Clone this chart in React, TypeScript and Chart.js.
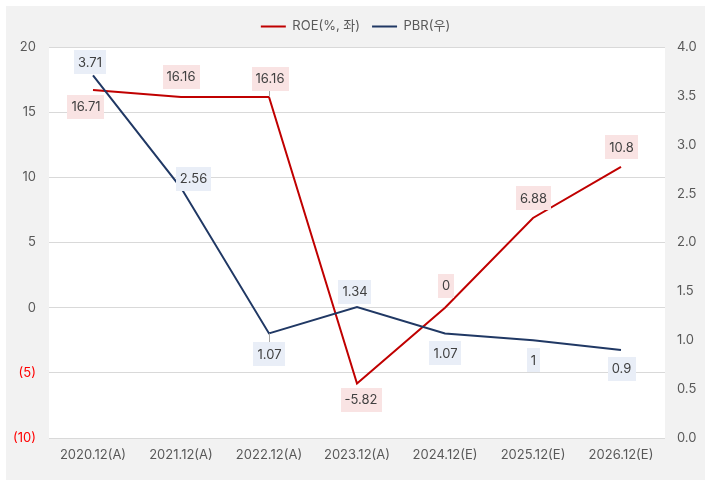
import React, { useEffect, useRef } from 'react';
import { Chart, registerables } from 'chart.js';

Chart.register(...registerables);

const categories = ['2020.12(A)', '2021.12(A)', '2022.12(A)', '2023.12(A)', '2024.12(E)', '2025.12(E)', '2026.12(E)'];
const roeValues = [16.71, 16.16, 16.16, -5.82, 0, 6.88, 10.8];
const pbrValues = [3.71, 2.56, 1.07, 1.34, 1.07, 1, 0.9];
const roeLabel = 'ROE(%, 좌)';
const pbrLabel = 'PBR(우)';
const leftMin = -10;
const leftMax = 20;
const leftStep = 5;
const rightMin = 0;
const rightMax = 4;
const rightStep = 0.5;

// label placement relative to each point (dx, dy of label box centre)
const roeLabelOffsets = [[-7, 17], [0, -20], [1, -18], [4, 16.5], [1, -22], [0.5, -19.5], [0.5, -19.5]];
const pbrLabelOffsets = [[-3, -13], [12.5, -9], [0.5, 21], [-2, -15.5], [0.5, 20], [0.5, 20], [0.5, 19]];
const roeLeaders = [false, false, true, false, false, false, false];
const pbrLeaders = [false, false, true, false, false, false, false];

const FONT = 'Inter, "Noto Sans CJK KR", sans-serif';
const RED = '#c00000';
const NAVY = '#203864';

const labelStyles = [
  { bg: '#f9e3e3', offsets: roeLabelOffsets, leaders: roeLeaders },
  { bg: '#e9eef7', offsets: pbrLabelOffsets, leaders: pbrLeaders },
];

const bgPlugin = {
  id: 'bgPlugin',
  beforeDraw(chart: any) {
    const { ctx, chartArea } = chart;
    ctx.save();
    ctx.fillStyle = '#ffffff';
    ctx.fillRect(0, 0, chart.width, chart.height);
    ctx.fillStyle = '#f2f2f2';
    ctx.fillRect(6, 6, chart.width - 12, chart.height - 12);
    ctx.fillStyle = '#ffffff';
    ctx.fillRect(chartArea.left, chartArea.top, chartArea.right - chartArea.left, chartArea.bottom - chartArea.top);
    ctx.restore();
  },
};

const legendPatch = {
  id: 'legendPatch',
  afterInit(chart: any) {
    const legend = chart.legend;
    if (legend && !legend.__patched) {
      const orig = legend.fit.bind(legend);
      legend.fit = function () {
        orig();
        this.height = 39;
      };
      legend.__patched = true;
    }
  },
};

const labelPlugin = {
  id: 'valueLabels',
  afterDatasetsDraw(chart: any) {
    const ctx = chart.ctx;
    ctx.save();
    ctx.font = `13px ${FONT}`;
    ctx.textAlign = 'center';
    ctx.textBaseline = 'middle';
    chart.data.datasets.forEach((ds: any, di: number) => {
      const meta = chart.getDatasetMeta(di);
      const cfg = labelStyles[di];
      meta.data.forEach((pt: any, i: number) => {
        const text = String(ds.data[i]);
        const [dx, dy] = cfg.offsets[i];
        const cx = pt.x + dx;
        const cy = pt.y + dy;
        const w = ctx.measureText(text).width + 8;
        const h = 24;
        if (cfg.leaders[i]) {
          ctx.strokeStyle = '#a6a6a6';
          ctx.lineWidth = 1;
          ctx.beginPath();
          ctx.moveTo(pt.x + 0.5, pt.y);
          ctx.lineTo(pt.x + 0.5, dy < 0 ? cy + h / 2 : cy - h / 2);
          ctx.stroke();
        }
        ctx.fillStyle = cfg.bg;
        ctx.fillRect(Math.round(cx - w / 2), Math.round(cy - h / 2), Math.round(w), h);
        ctx.fillStyle = '#404040';
        ctx.fillText(text, cx, cy + 0.5);
      });
    });
    ctx.restore();
  },
};

export default function App() {
  const ref = useRef<HTMLCanvasElement | null>(null);

  useEffect(() => {
    if (!ref.current) return;
    const chart = new Chart(ref.current, {
      type: 'line',
      data: {
        labels: categories,
        datasets: [
          {
            label: roeLabel,
            data: roeValues,
            borderColor: RED,
            backgroundColor: RED,
            borderWidth: 2,
            pointRadius: 0,
            tension: 0,
            yAxisID: 'y',
            order: 2,
          },
          {
            label: pbrLabel,
            data: pbrValues,
            borderColor: NAVY,
            backgroundColor: NAVY,
            borderWidth: 2,
            pointRadius: 0,
            tension: 0,
            yAxisID: 'y1',
            order: 1,
          },
        ],
      },
      options: {
        animation: false,
        responsive: false,
        layout: { padding: { top: 8, left: 0, right: 0, bottom: 0 } },
        plugins: {
          tooltip: { enabled: false },
          legend: {
            position: 'top',
            labels: {
              usePointStyle: true,
              pointStyle: 'line',
              pointStyleWidth: 25,
              padding: 12,
              color: '#595959',
              font: { family: FONT, size: 13 },
              sort: (a: any, b: any) => a.datasetIndex - b.datasetIndex,
            },
          },
        },
        scales: {
          x: {
            offset: true,
            grid: { display: false, drawTicks: false },
            border: { display: false },
            ticks: { color: '#595959', font: { family: FONT, size: 13 }, padding: 9, maxRotation: 0 },
            afterFit: (s: any) => { s.height = 48; },
          },
          y: {
            position: 'left',
            min: leftMin,
            max: leftMax,
            grid: { color: '#d9d9d9', lineWidth: 1, drawTicks: false },
            border: { display: false },
            ticks: {
              stepSize: leftStep,
              padding: 13,
              font: { family: FONT, size: 13 },
              color: (c: any) => (c.tick && c.tick.value < 0 ? '#ff0000' : '#595959'),
              callback: (v: any) => (v < 0 ? `(${-v})` : `${v}`),
            },
            afterFit: (s: any) => { s.width = 49; },
          },
          y1: {
            position: 'right',
            min: rightMin,
            max: rightMax,
            grid: { display: false, drawTicks: false },
            border: { display: false },
            ticks: {
              stepSize: rightStep,
              padding: 12,
              color: '#595959',
              font: { family: FONT, size: 13 },
              callback: (v: any) => Number(v).toFixed(1),
            },
            afterFit: (s: any) => { s.width = 46; },
          },
        },
      },
      plugins: [bgPlugin, legendPatch, labelPlugin],
    } as any);
    return () => chart.destroy();
  }, []);

  return (
    <div style={{ position: 'absolute', left: 0, top: 0, width: 711, height: 486 }}>
      <canvas ref={ref} width={711} height={486} style={{ display: 'block', width: 711, height: 486 }} />
    </div>
  );
}
